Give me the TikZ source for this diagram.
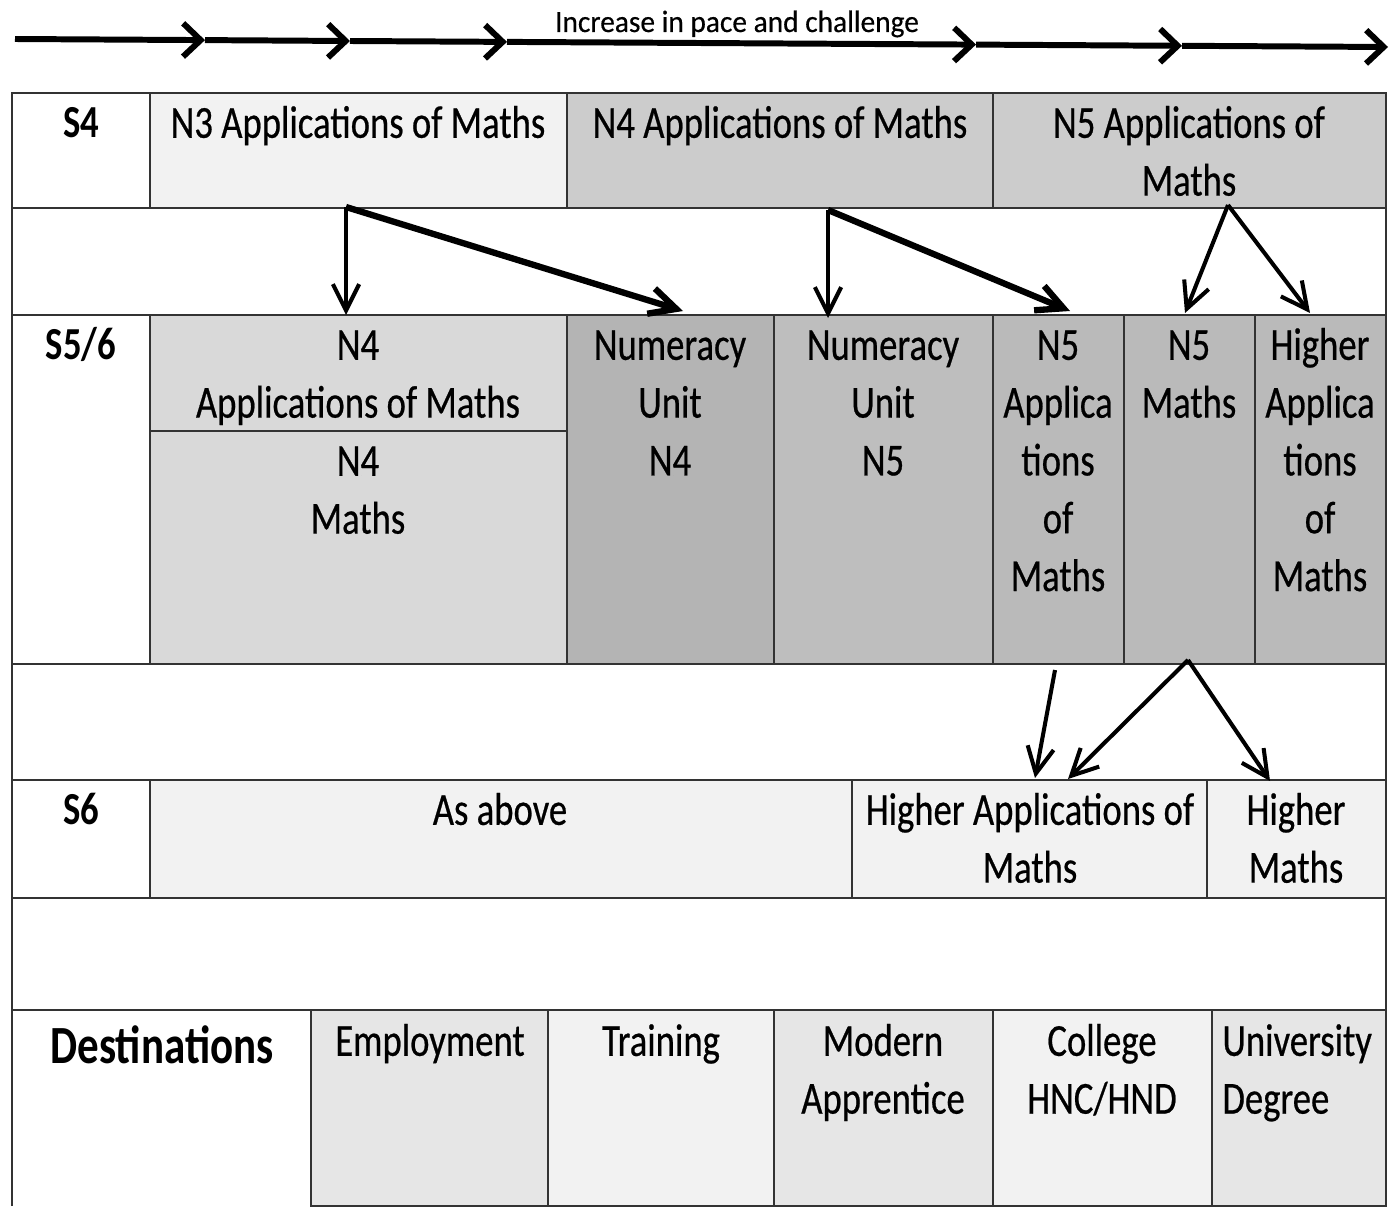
\documentclass[tikz,border=0pt]{standalone}
\usepackage{fontspec}
\setmainfont{Carlito}[FakeStretch=0.8, UprightFeatures={FakeBold=0.5}]
\newfontfamily\pacefont{Carlito}[FakeStretch=0.95, FakeBold=0.4]
\usetikzlibrary{arrows.meta}

\definecolor{paleGrey}{HTML}{F2F2F2}
\definecolor{lightGrey}{HTML}{D9D9D9}
\definecolor{midGrey}{HTML}{CCCCCC}
\definecolor{darkGrey}{HTML}{BABABA}
\definecolor{darkerGrey}{HTML}{B4B4B4}
\definecolor{numGrey}{HTML}{BEBEBE}
\definecolor{destGrey}{HTML}{E6E6E6}

\newcommand\cellfont{\fontsize{26.1pt}{32.9pt}\selectfont}
\newcommand\destfont{\fontsize{30.6pt}{32.9pt}\selectfont\bfseries}

\tikzset{
  cell/.style={draw=black!80, line width=1pt},
  txt/.style={anchor=north, align=center, inner sep=0pt, font=\cellfont},
  lbl/.style={txt, font=\cellfont\bfseries},
  pace/.style={line width=3.4pt, -{Straight Barb[length=10pt,width=19pt]}},
  route/.style={line width=2.3pt, -{Straight Barb[length=15pt,width=15pt]}},
  wide route/.style={route, line width=3.6pt}
}

\begin{document}
\begin{tikzpicture}[x=0.02cm, y=-0.02cm]
    \useasboundingbox (0,0) rectangle (1391,1206);

    % Increase in pace and challenge
    \coordinate (p0) at (15,39);
    \coordinate (p1) at (205,40.1);
    \coordinate (p2) at (350,41);
    \coordinate (p3) at (507,41.9);
    \coordinate (p4) at (976,44.6);
    \coordinate (p5) at (1182,45.8);
    \coordinate (p6) at (1388,47);
    \draw[pace] (p0) -- (p1);
    \draw[pace] (p1) -- (p2);
    \draw[pace] (p2) -- (p3);
    \draw[pace] (p3) -- (p4);
    \draw[pace] (p4) -- (p5);
    \draw[pace] (p5) -- (p6);
    \node[anchor=base, inner sep=0pt, font=\pacefont\fontsize{17.6pt}{20pt}\selectfont]
        (paceText) at (737,32) {Increase in pace and challenge};

    % S4 row
    \filldraw[cell, fill=paleGrey] (150,93) rectangle (567,208);
    \filldraw[cell, fill=midGrey] (567,93) rectangle (993,208);
    \filldraw[cell, fill=midGrey] (993,93) rectangle (1386,208);
    \node[lbl] (s4) at (81,97) {\strut S4};
    \node[txt] (n3App) at (358,97) {\strut N3 Applications of Maths};
    \node[txt] (n4App) at (780,97) {\strut N4 Applications of Maths};
    \node[txt] (n5App) at (1189,97) {\strut N5 Applications of\\Maths};

    % S5/6 row
    \filldraw[cell, fill=lightGrey] (150,315) rectangle (567,664);
    \draw[cell] (150,431) -- (567,431);
    \filldraw[cell, fill=darkerGrey] (567,315) rectangle (774,664);
    \filldraw[cell, fill=numGrey] (774,315) rectangle (993,664);
    \filldraw[cell, fill=darkGrey] (993,315) rectangle (1124,664);
    \filldraw[cell, fill=darkGrey] (1124,315) rectangle (1255,664);
    \filldraw[cell, fill=darkGrey] (1255,315) rectangle (1386,664);
    \node[lbl] (s56) at (81,319) {\strut S5/6};
    \node[txt] (n4AppB) at (358,319) {\strut N4\\Applications of Maths};
    \node[txt] (n4Maths) at (358,435) {\strut N4\\Maths};
    \node[txt] (numN4) at (670,319) {\strut Numeracy\\Unit\\N4};
    \node[txt] (numN5) at (883,319) {\strut Numeracy\\Unit\\N5};
    \node[txt] (n5AppB) at (1058,319) {\strut N5\\Applica\\tions\\of\\Maths};
    \node[txt] (n5Maths) at (1189,319) {\strut N5\\Maths};
    \node[txt] (hiAppB) at (1320,319) {\strut Higher\\Applica\\tions\\of\\Maths};

    % S6 row
    \filldraw[cell, fill=paleGrey] (150,780) rectangle (852,898);
    \filldraw[cell, fill=paleGrey] (852,780) rectangle (1207,898);
    \filldraw[cell, fill=paleGrey] (1207,780) rectangle (1386,898);
    \node[lbl] (s6) at (81,784) {\strut S6};
    \node[txt] (asAbove) at (500,784) {\strut As above};
    \node[txt] (hiApp) at (1030,784) {\strut Higher Applications of\\Maths};
    \node[txt] (hiMaths) at (1296,784) {\strut Higher\\Maths};

    % Destinations row
    \filldraw[cell, fill=destGrey] (311,1010) -- (311,1206) -- (548,1206) -- (548,1010) -- cycle;
    \filldraw[cell, fill=paleGrey] (548,1010) -- (548,1206) -- (774,1206) -- (774,1010) -- cycle;
    \filldraw[cell, fill=destGrey] (774,1010) -- (774,1206) -- (993,1206) -- (993,1010) -- cycle;
    \filldraw[cell, fill=paleGrey] (993,1010) -- (993,1206) -- (1212,1206) -- (1212,1010) -- cycle;
    \filldraw[cell, fill=destGrey] (1212,1010) -- (1212,1206) -- (1386,1206) -- (1386,1010) -- cycle;
    \node[txt, font=\destfont] (dest) at (162,1023) {\strut Destinations};
    \node[txt] (employ) at (430,1015) {\strut Employment};
    \node[txt] (training) at (661,1015) {\strut Training};
    \node[txt] (modern) at (883,1015) {\strut Modern\\Apprentice};
    \node[txt] (college) at (1102,1015) {\strut College\\HNC/HND};
    \node[txt, anchor=north west, align=left] (uni) at (1222,1015) {\strut University\\Degree};

    % Table frame and row lines
    \draw[cell] (12,1206) -- (12,93) -- (1386,93) -- (1386,1206);
    \draw[cell] (12,208) -- (1386,208);
    \draw[cell] (12,315) -- (1386,315);
    \draw[cell] (12,664) -- (1386,664);
    \draw[cell] (12,780) -- (1386,780);
    \draw[cell] (12,898) -- (1386,898);
    \draw[cell] (12,1010) -- (1386,1010);

    % Routes from S4
    \coordinate (fromN3) at (346,207);
    \coordinate (toN4) at (346,315);
    \coordinate (toNumN4) at (683,311);
    \coordinate (fromN4) at (828,210);
    \coordinate (toNumN5) at (828,318);
    \coordinate (toN5App) at (1070,311);
    \coordinate (fromN5) at (1228,205);
    \coordinate (toN5Maths) at (1185,313);
    \coordinate (toHiAppB) at (1310,313);
    \draw[route] (fromN3) -- (toN4);
    \draw[wide route] (fromN3) -- (toNumN4);
    \draw[route] (fromN4) -- (toNumN5);
    \draw[wide route] (fromN4) -- (toN5App);
    \draw[route] (fromN5) -- (toN5Maths);
    \draw[route] (fromN5) -- (toHiAppB);

    % Routes from S5/6
    \coordinate (fromN5App) at (1055,670);
    \coordinate (toHiAppA) at (1035,778);
    \coordinate (fromN5Maths) at (1188,660);
    \coordinate (toHiAppC) at (1068,779);
    \coordinate (toHiMaths) at (1270,781);
    \draw[route] (fromN5App) -- (toHiAppA);
    \draw[route] (fromN5Maths) -- (toHiAppC);
    \draw[route] (fromN5Maths) -- (toHiMaths);
\end{tikzpicture}
\end{document}
